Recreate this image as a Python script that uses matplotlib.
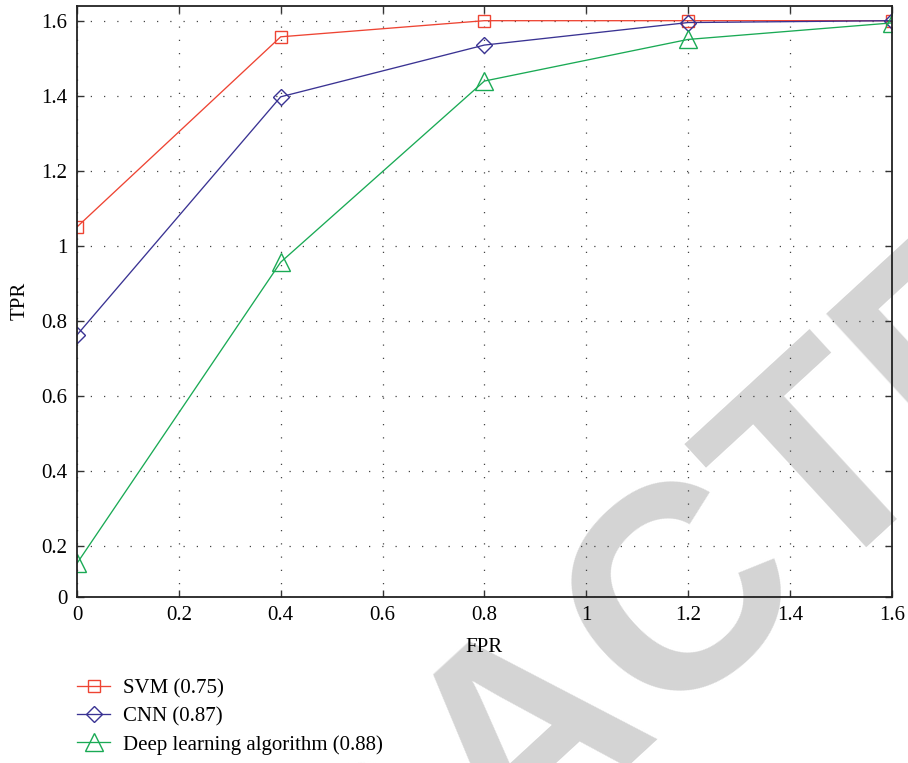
import matplotlib
matplotlib.use("Agg")
import matplotlib.pyplot as plt
from matplotlib import font_manager as fm

# ---- data ----
fpr = [0.0, 0.4, 0.8, 1.2, 1.6]
svm = [1.05, 1.557, 1.6, 1.6, 1.6]
cnn = [0.762, 1.397, 1.535, 1.595, 1.6]
dl = [0.153, 0.956, 1.439, 1.55, 1.594]

series_labels = ["SVM (0.75)", "CNN (0.87)", "Deep learning algorithm (0.88)"]

xticks = [0, 0.2, 0.4, 0.6, 0.8, 1.0, 1.2, 1.4, 1.6]
xticklabels = ["0", "0.2", "0.4", "0.6", "0.8", "1", "1.2", "1.4", "1.6"]
ylim = (0.064, 1.6405)
yticks = [0.064, 0.2, 0.4, 0.6, 0.8, 1.0, 1.2, 1.4, 1.6]
yticklabels = ["0", "0.2", "0.4", "0.6", "0.8", "1", "1.2", "1.4", "1.6"]

# ---- style ----
plt.rcParams["font.family"] = ["Liberation Serif", "DejaVu Serif"]
FS = 15
c_svm = "#ee4433"
c_cnn = "#3a3393"
c_dl = "#1aaa55"

fig = plt.figure(figsize=(9.08, 7.63), dpi=100)
fig.patch.set_facecolor("white")

# watermark (narrow bold sans if available)
names = {f.name for f in fm.fontManager.ttflist}
if "Liberation Sans Narrow" in names:
    wm_family, wm_size, wm_xy = "Liberation Sans Narrow", 244, (0.663, -0.048)
else:
    wm_family, wm_size, wm_xy = "Liberation Sans", 208, (0.641, -0.036)
fig.text(wm_xy[0], wm_xy[1], "RETRACTED", rotation=42.6, rotation_mode="anchor",
         ha="center", va="baseline", fontsize=wm_size, color="#d4d4d4",
         fontweight="bold", family=wm_family, zorder=-5)

ax = fig.add_axes([77 / 908, 1 - 596.7 / 763, (891.7 - 77) / 908, (596.7 - 5.5) / 763])
ax.set_facecolor("none")
ax.set_zorder(1)

lw = 0.95
ax.plot(fpr, svm, color=c_svm, lw=lw, marker="s", ms=9.3, mfc="none", mew=1.0,
        label=series_labels[0])
ax.plot(fpr, cnn, color=c_cnn, lw=lw, marker="D", ms=8.0, mfc="none", mew=1.0,
        label=series_labels[1])
ax.plot(fpr, dl, color=c_dl, lw=lw, marker="^", ms=12.5, mfc="none", mew=1.0,
        label=series_labels[2])

ax.set_xlim(0, 1.6)
ax.set_ylim(*ylim)
ax.set_xticks(xticks)
ax.set_xticklabels(xticklabels)
ax.set_yticks(yticks)
ax.set_yticklabels(yticklabels)

ax.grid(True, color="#444444", lw=0.9, linestyle=(0, (1.0, 9.6)))
ax.tick_params(direction="in", top=True, right=True, length=5, width=1.0,
               color="#333333", labelsize=FS, pad=7)
for s in ax.spines.values():
    s.set_linewidth(1.3)
    s.set_color("#222222")

ax.set_xlabel("FPR", fontsize=FS, labelpad=9)
ax.set_ylabel("TPR", fontsize=FS, labelpad=8)

leg = fig.legend(loc="upper left", bbox_to_anchor=(77 / 908, 1 - 679 / 763),
                 frameon=False, fontsize=FS, handlelength=1.6,
                 handletextpad=0.62, labelspacing=0.4, borderaxespad=0,
                 borderpad=0)

fig.savefig("out.png", dpi=100, facecolor="white")
